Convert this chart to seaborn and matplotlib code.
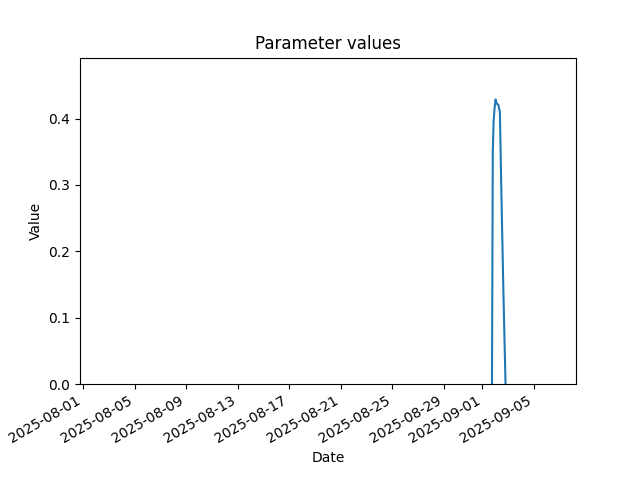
import matplotlib as mpl
mpl.use('Agg')
import matplotlib.pyplot as plt
import pandas as pd
import seaborn as sns

# readings around the single event
dates = ['2025-09-01 17:45', '2025-09-01 19:15', '2025-09-01 20:45',
         '2025-09-01 22:30', '2025-09-02 00:30', '2025-09-02 02:00',
         '2025-09-02 03:30', '2025-09-02 05:30', '2025-09-02 08:30',
         '2025-09-02 11:00', '2025-09-02 15:00', '2025-09-02 19:00']
values = [0.0, 0.35, 0.395, 0.415, 0.429, 0.424,
          0.422, 0.421, 0.41, 0.30, 0.14, 0.0]

x_start = '2025-07-31 18:25'
x_end = '2025-09-08 06:15'
y_top = 0.492

df = pd.DataFrame({'Date': pd.to_datetime(dates), 'Value': values})

fig, ax = plt.subplots(figsize=(6.4, 4.8), dpi=100)
sns.lineplot(data=df, x='Date', y='Value', ax=ax, color='#1f77b4', linewidth=1.5)
ax.set_xlim(pd.Timestamp(x_start), pd.Timestamp(x_end))
ax.set_ylim(0, y_top)
ax.set_title('Parameter values')
ax.set_xlabel('Date')
ax.set_ylabel('Value')
fig.autofmt_xdate()
fig.savefig('out.png')
